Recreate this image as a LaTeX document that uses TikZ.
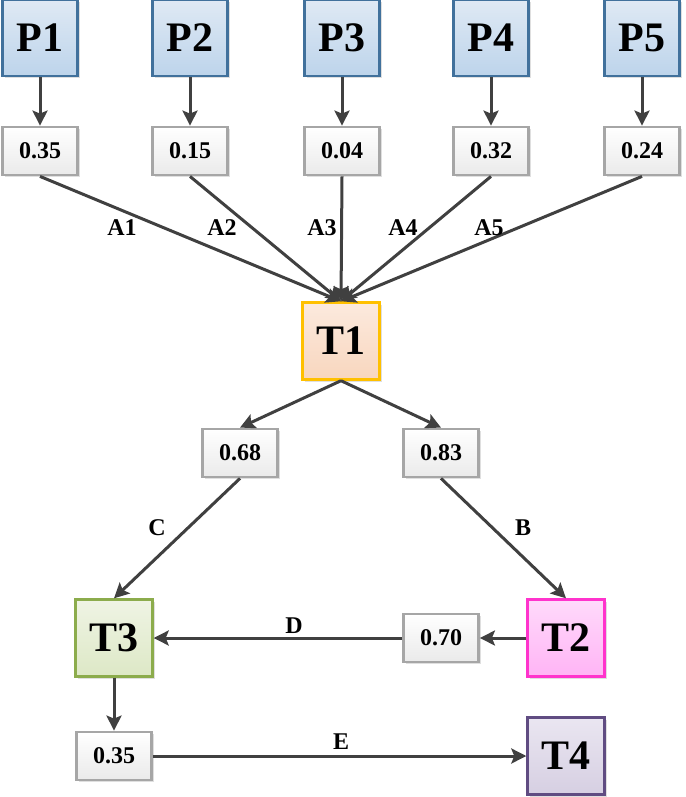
\documentclass[tikz,border=0pt]{standalone}
\usepackage{fontspec}
\setmainfont{Liberation Serif}
\usetikzlibrary{arrows.meta,shadows}
\definecolor{pborder}{HTML}{41719C}
\definecolor{ptop}{HTML}{DFE9F4}
\definecolor{pbot}{HTML}{BDD4EB}
\definecolor{vborder}{HTML}{A6A6A6}
\definecolor{vbot}{HTML}{EAEAEA}
\definecolor{lineclr}{HTML}{404040}
\tikzset{
  boxbase/.style={draw, rectangle, inner sep=0pt, font=\bfseries,
    drop shadow={opacity=0.25, shadow xshift=2pt, shadow yshift=-2pt}},
  pbox/.style={boxbase, minimum width=75pt, minimum height=76pt, line width=2.2pt,
    draw=pborder, top color=ptop, bottom color=pbot,
    font=\bfseries\fontsize{42}{42}\selectfont},
  tbox/.style={boxbase, minimum width=77pt, minimum height=77pt, line width=2.4pt,
    font=\bfseries\fontsize{42}{42}\selectfont},
  vbox/.style={boxbase, minimum width=75pt, minimum height=48pt, line width=2.8pt,
    draw=vborder, top color=white, bottom color=vbot,
    font=\bfseries\fontsize{24}{24}\selectfont},
  conn/.style={draw=lineclr, line width=3pt,
    -{Stealth[length=15pt,width=15pt,inset=3pt]}},
  elabel/.style={font=\bfseries\fontsize{24}{24}\selectfont, inner sep=0pt}
}
\begin{document}
\begin{tikzpicture}[x=1pt,y=-1pt]
\useasboundingbox (0,0) rectangle (685,797);
% P boxes
\node[pbox] (P1) at (40,38) {P1};
\node[pbox] (P2) at (190,38) {P2};
\node[pbox] (P3) at (342,38) {P3};
\node[pbox] (P4) at (491,38) {P4};
\node[pbox] (P5) at (642,38) {P5};
% value boxes
\node[vbox] (v1) at (40,151) {0.35};
\node[vbox] (v2) at (190,151) {0.15};
\node[vbox] (v3) at (342,151) {0.04};
\node[vbox] (v4) at (491,151) {0.32};
\node[vbox] (v5) at (642,151) {0.24};
% T boxes
\node[tbox, draw={rgb,255:red,255;green,192;blue,0}, top color={rgb,255:red,252;green,234;blue,222}, bottom color={rgb,255:red,248;green,214;blue,190}] (T1) at (341,341) {T1};
\node[vbox] (v68) at (240,453) {0.68};
\node[vbox] (v83) at (441,453) {0.83};
\node[tbox, draw={rgb,255:red,140;green,172;blue,76}, top color={rgb,255:red,239;green,244;blue,228}, bottom color={rgb,255:red,221;green,232;blue,198}] (T3) at (114,638) {T3};
\node[tbox, draw={rgb,255:red,255;green,51;blue,204}, top color={rgb,255:red,255;green,218;blue,251}, bottom color={rgb,255:red,255;green,180;blue,245}] (T2) at (566,638) {T2};
\node[vbox] (v70) at (441,638) {0.70};
\node[vbox] (v35) at (114,756) {0.35};
\node[tbox, draw={rgb,255:red,96;green,76;blue,130}, top color={rgb,255:red,234;green,230;blue,241}, bottom color={rgb,255:red,214;green,207;blue,226}] (T4) at (566,756) {T4};
% connectors P -> values
\foreach \i in {1,...,5} { \draw[conn] (P\i) -- (v\i); }
% values -> T1
\foreach \i in {1,...,5} { \draw[conn] (v\i.south) -- (T1.north); }
\node[elabel] (lA1) at (122,228) {A1};
\node[elabel] (lA2) at (222,228) {A2};
\node[elabel] (lA3) at (322,228) {A3};
\node[elabel] (lA4) at (403,228) {A4};
\node[elabel] (lA5) at (489,228) {A5};
% T1 -> values
\draw[conn] (T1.south) -- (v68.north);
\draw[conn] (T1.south) -- (v83.north);
\draw[conn] (v68.south) -- (T3.north);
\draw[conn] (v83.south) -- (T2.north);
\node[elabel] (lC) at (157,528) {C};
\node[elabel] (lB) at (523,528) {B};
% T2 -> 0.70 -> T3
\draw[conn] (T2.west) -- (v70.east);
\draw[conn] (v70.west) -- (T3.east);
\node[elabel] (lD) at (294,626) {D};
% T3 -> 0.35 -> T4
\draw[conn] (T3.south) -- (v35.north);
\draw[conn] (v35.east) -- (T4.west);
\node[elabel] (lE) at (341,742) {E};
\end{tikzpicture}
\end{document}
